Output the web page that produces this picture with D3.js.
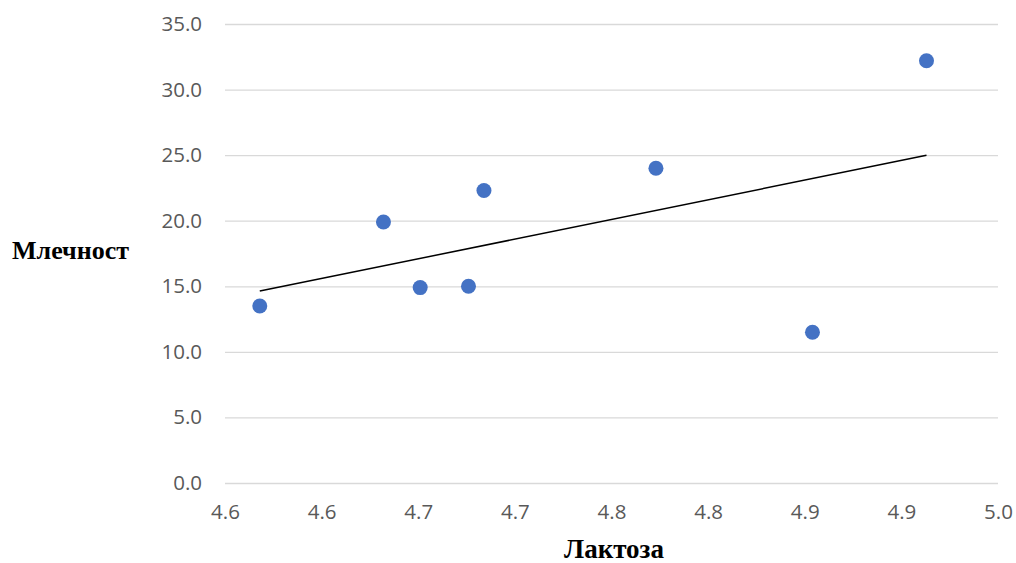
<!DOCTYPE html>
<html>
<head>
<meta charset="utf-8">
<script src="https://cdn.jsdelivr.net/npm/d3@7"></script>
<style>
  body { margin: 0; background: #fff; }
  svg { display: block; }
</style>
</head>
<body>
<svg class="scatter_svg" width="1016" height="563"></svg>
<script>
// values
const lactose = [4.568, 4.632, 4.651, 4.676, 4.684, 4.773, 4.854, 4.913]
const milkYield = [13.5, 19.9, 14.9, 15.0, 22.3, 24.0, 11.5, 32.2]
const xTicks = [4.55, 4.6, 4.65, 4.7, 4.75, 4.8, 4.85, 4.9, 4.95]
const yTicks = [0, 5, 10, 15, 20, 25, 30, 35]
const xTitle = "Лактоза"
const yTitle = "Млечност"

const points = lactose.map((x, i) => ({ x: x, y: milkYield[i] }))

const svg = d3.select("svg.scatter_svg")
const margin = { top: 24, right: 18, bottom: 80, left: 225 }
const width = 1016 - margin.left - margin.right
const height = 563 - margin.top - margin.bottom

const x = d3.scaleLinear().domain([4.55, 4.95]).range([0, width])
const y = d3.scaleLinear().domain([0, 35]).range([height, 0])

const g = svg.append("g")
    .attr("transform", `translate(${margin.left},${margin.top})`)

// gridlines + y labels
const yAxis = g.append("g")
    .attr("class", "y axis")
    .call(d3.axisLeft(y).tickValues(yTicks).tickFormat(d3.format(".1f"))
        .tickSize(-width).tickPadding(23))
yAxis.select(".domain").remove()
yAxis.selectAll(".tick line").attr("stroke", "#d9d9d9").attr("stroke-width", 1.3)
yAxis.selectAll(".tick text")
    .attr("fill", "#595959")
    .style("font-family", "'Open Sans', sans-serif")
    .style("font-size", "20.5px")

// x labels (Excel rounds the tick values to one decimal)
const xAxis = g.append("g")
    .attr("class", "x axis")
    .attr("transform", `translate(0,${height})`)
    .call(d3.axisBottom(x).tickValues(xTicks)
        .tickFormat(d => (Math.round(d * 10 + 1e-9) / 10).toFixed(1))
        .tickSize(0).tickPadding(21))
xAxis.select(".domain").remove()
xAxis.selectAll(".tick text")
    .attr("fill", "#595959")
    .style("font-family", "'Open Sans', sans-serif")
    .style("font-size", "20.5px")

// linear trendline
const mx = d3.mean(points, d => d.x)
const my = d3.mean(points, d => d.y)
const slope = d3.sum(points, d => (d.x - mx) * (d.y - my)) / d3.sum(points, d => (d.x - mx) ** 2)
const fit = v => my + slope * (v - mx)
const ext = d3.extent(lactose)

g.append("line")
    .attr("x1", x(ext[0])).attr("y1", y(fit(ext[0])))
    .attr("x2", x(ext[1])).attr("y2", y(fit(ext[1])))
    .attr("stroke", "#000")
    .attr("stroke-width", 1.5)

g.append("g")
    .selectAll("circle")
    .data(points)
    .join("circle")
    .attr("cx", d => x(d.x))
    .attr("cy", d => y(d.y))
    .attr("r", 7.5)
    .attr("fill", "#4472c4")

// axis titles
svg.append("text")
    .attr("x", 614)
    .attr("y", 558)
    .attr("text-anchor", "middle")
    .style("font-family", "'Liberation Serif', 'Times New Roman', serif")
    .style("font-weight", "bold")
    .style("font-size", "27px")
    .text(xTitle)

svg.append("text")
    .attr("x", 12)
    .attr("y", 259)
    .style("font-family", "'Liberation Serif', 'Times New Roman', serif")
    .style("font-weight", "bold")
    .style("font-size", "26px")
    .text(yTitle)
</script>
</body>
</html>
